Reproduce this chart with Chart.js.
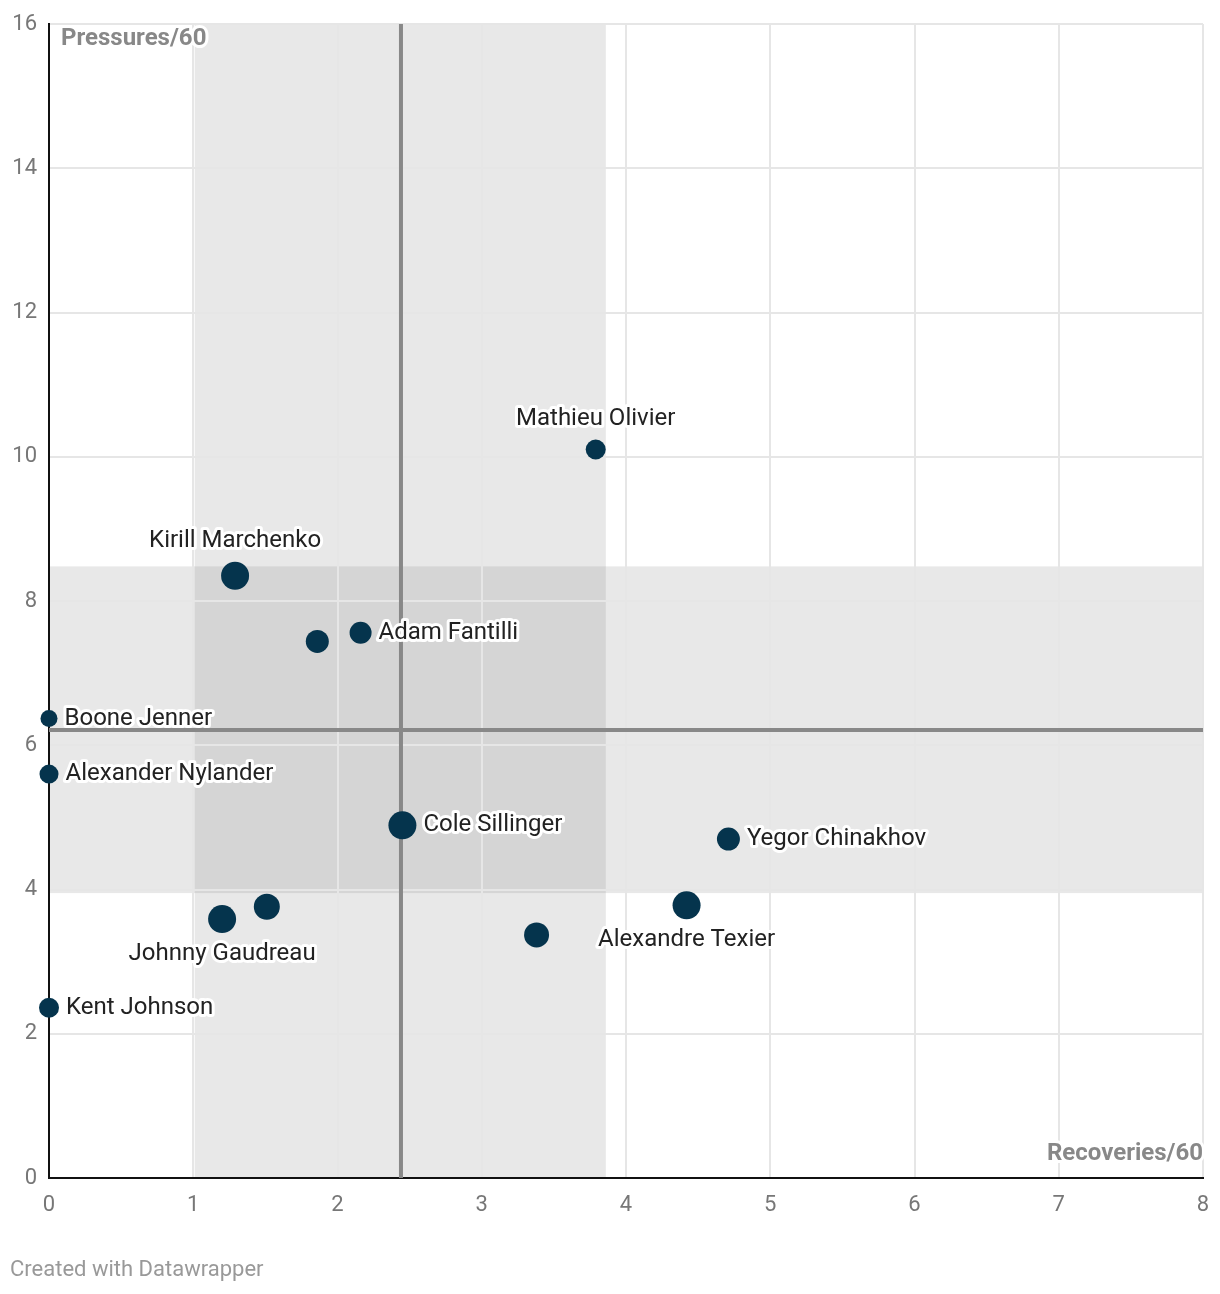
<!DOCTYPE html>
<html>
<head>
<meta charset="utf-8">
<script src="https://cdn.jsdelivr.net/npm/chart.js"></script>
<style>
  html, body { margin: 0; padding: 0; background: #fff; }
  #wrap { position: relative; width: 1220px; height: 1294px; }
  #footer { position: absolute; left: 10px; top: 1256px; font: 22px Roboto, sans-serif; color: #999; }
</style>
</head>
<body>
<div id="wrap">
  <canvas id="chart" width="1220" height="1294"></canvas>
  <div id="footer">Created with Datawrapper</div>
</div>
<script>
// player data
const names = ['Mathieu Olivier', 'Kirill Marchenko', '', 'Adam Fantilli', 'Boone Jenner',
  'Alexander Nylander', 'Cole Sillinger', 'Yegor Chinakhov', 'Alexandre Texier', '', '',
  'Johnny Gaudreau', 'Kent Johnson'];
const recoveries = [3.79, 1.29, 1.86, 2.16, 0, 0, 2.45, 4.71, 4.42, 3.38, 1.51, 1.20, 0];
const pressures = [10.10, 8.35, 7.44, 7.56, 6.37, 5.60, 4.89, 4.70, 3.78, 3.37, 3.76, 3.59, 2.36];
const sizes = [10, 14, 11.5, 11, 8.5, 9.5, 14, 11.5, 14, 12.5, 13, 14, 10];

// shaded ranges and reference lines
const bandX = [1.01, 3.86];
const bandY = [3.95, 8.48];
const refX = 2.44;
const refY = 6.21;

const xTicks = [0, 1, 2, 3, 4, 5, 6, 7, 8];
const yTicks = [0, 2, 4, 6, 8, 10, 12, 14, 16];

// where each label sits relative to its dot
const labelSide = ['top', 'top', '', 'right', 'right', 'right', 'right', 'right', 'bottom', '', '', 'bottom', 'right'];

const FONT = 'Roboto, sans-serif';

function haloText(ctx, text, x, y, font, color, align) {
    ctx.save();
    ctx.font = font;
    ctx.textAlign = align;
    ctx.textBaseline = 'middle';
    ctx.lineJoin = 'round';
    ctx.lineWidth = 6;
    ctx.strokeStyle = '#fff';
    ctx.strokeText(text, x, y);
    ctx.fillStyle = color;
    ctx.fillText(text, x, y);
    ctx.restore();
}

const bandsPlugin = {
    id: 'bands',
    beforeDraw(chart) {
        const { ctx, chartArea: a, scales: { x, y } } = chart;
        ctx.save();
        ctx.fillStyle = '#fff';
        ctx.fillRect(0, 0, chart.width, chart.height);
        const x0 = x.getPixelForValue(bandX[0]), x1 = x.getPixelForValue(bandX[1]);
        const y0 = y.getPixelForValue(bandY[1]), y1 = y.getPixelForValue(bandY[0]);
        ctx.fillStyle = '#e8e8e8';
        ctx.fillRect(x0, a.top, x1 - x0, a.bottom - a.top);
        ctx.fillRect(a.left, y0, a.right - a.left, y1 - y0);
        ctx.fillStyle = '#d5d5d5';
        ctx.fillRect(x0, y0, x1 - x0, y1 - y0);
        ctx.restore();
    },
    beforeDatasetsDraw(chart) {
        const { ctx, chartArea: a, scales: { x, y } } = chart;
        ctx.save();
        ctx.strokeStyle = '#888';
        ctx.lineWidth = 4;
        ctx.beginPath();
        const px = x.getPixelForValue(refX);
        ctx.moveTo(px, a.top);
        ctx.lineTo(px, a.bottom);
        const py = y.getPixelForValue(refY);
        ctx.moveTo(a.left, py);
        ctx.lineTo(a.right, py);
        ctx.stroke();
        ctx.restore();
        // axis titles
        haloText(ctx, 'Pressures/60', a.left + 12, a.top + 15, 'bold 24px ' + FONT, '#888', 'left');
        haloText(ctx, 'Recoveries/60', a.right, a.bottom - 24, 'bold 24px ' + FONT, '#888', 'right');
    },
    afterDatasetsDraw(chart) {
        const { ctx, scales: { x, y } } = chart;
        names.forEach((name, i) => {
            if (!name) return;
            const px = x.getPixelForValue(recoveries[i]);
            const py = y.getPixelForValue(pressures[i]);
            const r = sizes[i];
            const font = '24px ' + FONT;
            if (labelSide[i] === 'right') {
                haloText(ctx, name, px + r + 7, py, font, '#222', 'left');
            } else if (labelSide[i] === 'top') {
                haloText(ctx, name, px, py - r - 21, font, '#222', 'center');
            } else {
                haloText(ctx, name, px, py + r + 21, font, '#222', 'center');
            }
        });
    }
};

new Chart(document.getElementById('chart'), {
    type: 'scatter',
    data: {
        datasets: [{
            data: recoveries.map((v, i) => ({ x: v, y: pressures[i] })),
            pointRadius: sizes,
            pointHoverRadius: sizes,
            backgroundColor: '#05344d',
            borderColor: '#fff',
            borderWidth: 0,
            clip: false
        }]
    },
    options: {
        responsive: false,
        animation: false,
        events: [],
        layout: { padding: { top: 24, right: 17, left: 0, bottom: 67 } },
        plugins: { legend: { display: false }, tooltip: { enabled: false } },
        scales: {
            x: {
                type: 'linear',
                min: 0, max: 8,
                afterBuildTicks: s => { s.ticks = xTicks.map(v => ({ value: v })); },
                afterFit: s => { s.height = 49; s.paddingLeft = 0; s.paddingRight = 0; },
                grid: { color: '#e6e6e6', lineWidth: 2, drawTicks: false },
                border: { color: '#111', width: 2 },
                ticks: { color: '#777', font: { family: FONT, size: 22 }, padding: 14, maxRotation: 0 }
            },
            y: {
                type: 'linear',
                min: 0, max: 16,
                afterBuildTicks: s => { s.ticks = yTicks.map(v => ({ value: v })); },
                afterFit: s => { s.width = 49; s.paddingTop = 0; s.paddingBottom = 0; },
                grid: { color: '#e6e6e6', lineWidth: 2, drawTicks: false },
                border: { color: '#111', width: 2 },
                ticks: { color: '#777', font: { family: FONT, size: 22 }, padding: 12 }
            }
        }
    },
    plugins: [bandsPlugin]
});
</script>
</body>
</html>
